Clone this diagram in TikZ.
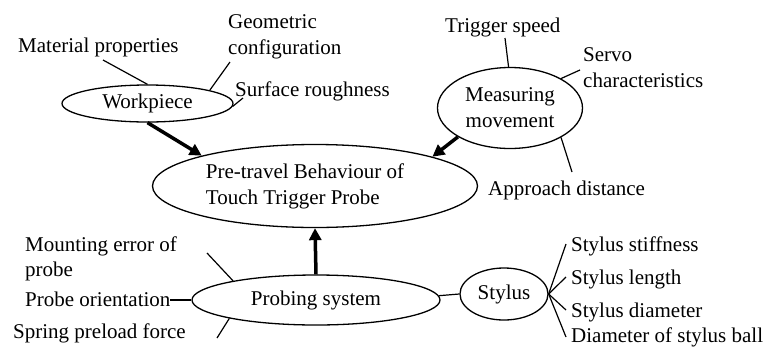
\documentclass[tikz,border=0pt]{standalone}
\usepackage{fontspec}
\setmainfont{Liberation Serif}
\usetikzlibrary{shapes.geometric,arrows.meta}
\begin{document}
\begin{tikzpicture}[x=1pt,y=-1pt,
  every node/.style={font=\fontsize{21}{26}\selectfont},
  oval/.style={ellipse,draw,line width=1.3pt,inner sep=0pt,align=center},
  lbl/.style={anchor=base west,inner sep=0pt,align=left},
  link/.style={line width=1.2pt},
  bigarrow/.style={line width=3.5pt,-{Triangle[length=12pt,width=12pt]}}]
\useasboundingbox (0,0) rectangle (764,349);
% ellipses
\node[oval,minimum width=171pt,minimum height=37pt] (wp) at (147.5,103.5) {Workpiece};
\node[oval,minimum width=325pt,minimum height=83pt,align=left] (main) at (315,186) {Pre-travel Behaviour of\hspace*{20pt}\\Touch Trigger Probe};
\node[oval,minimum width=145pt,minimum height=81pt] (mm) at (510,108) {Measuring\\movement};
\node[oval,minimum width=248pt,minimum height=50pt] (ps) at (316,300) {Probing system};
\node[oval,minimum width=88pt,minimum height=52pt] (st) at (504,294) {Stylus};
% labels (base = baseline of last line)
\node[lbl] (mat) at (18,52) {Material properties};
\node[lbl] (geo) at (228,54) {Geometric\\configuration};
\node[lbl] (surf) at (235,96) {Surface roughness};
\node[lbl] (trig) at (445,32) {Trigger speed};
\node[lbl] (servo) at (583,87) {Servo\\characteristics};
\node[lbl] (appr) at (488,195) {Approach distance};
\node[lbl] (mount) at (25,276) {Mounting error of\\[-1pt]probe};
\node[lbl] (orient) at (25,306) {Probe orientation};
\node[lbl] (spring) at (13,338) {Spring preload force};
\node[lbl] (stiff) at (571,251) {Stylus stiffness};
\node[lbl] (slen) at (571,284) {Stylus length};
\node[lbl] (sdia) at (571,317) {Stylus diameter};
\node[lbl] (sball) at (571,342) {Diameter of stylus ball};
% free ends
\coordinate (cmat) at (103,60);
\coordinate (cgeo) at (230,62);
\coordinate (csurf) at (243,98);
\coordinate (ctrig) at (505,38);
\coordinate (cservo) at (580,70);
\coordinate (cappr) at (572,172);
\coordinate (cmount) at (207,253);
\coordinate (corient) at (170,300);
\coordinate (cspring) at (217,338);
\coordinate (cstiff) at (566,244);
\coordinate (clen) at (566,277);
\coordinate (cdia) at (566,310);
\coordinate (cball) at (566,337);
% thin links
\draw[link] (cmat) -- (wp.north);
\draw[link] (cgeo) -- (wp.12);
\draw[link] (csurf) -- (wp.-2);
\draw[link] (ctrig) -- (mm.92);
\draw[link] (cservo) -- (mm.30);
\draw[link] (cappr) -- (mm.-30);
\draw[link] (cmount) -- (ps.167);
\draw[link] (corient) -- (ps.west);
\draw[link] (cspring) -- (ps.-168);
\draw[link] (ps.2) -- (st.west);
\draw[link] (st.east) -- (cstiff);
\draw[link] (st.east) -- (clen);
\draw[link] (st.east) -- (cdia);
\draw[link] (st.east) -- (cball);
% thick arrows
\draw[bigarrow] (wp.south) -- (main.165);
\draw[bigarrow] (mm.-151) -- (main.14);
\draw[bigarrow] (ps.north) -- (main.south);
\end{tikzpicture}
\end{document}
